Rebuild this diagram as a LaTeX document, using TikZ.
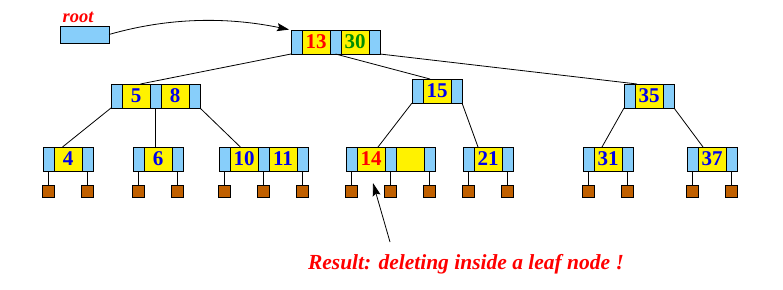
\documentclass[tikz,border=0pt]{standalone}
\usepackage{fontspec}
\setmainfont{Liberation Serif}
\usepackage{tikz}
\usetikzlibrary{positioning,calc,arrows.meta}
\definecolor{ptrblue}{RGB}{135,206,250}
\definecolor{keyblue}{RGB}{0,0,235}
\definecolor{keygreen}{RGB}{0,140,0}
\definecolor{stubbrown}{RGB}{192,96,0}

\begin{document}
\begin{tikzpicture}[x=1pt,y=-1pt,
  ptr/.style={draw,line width=0.9pt,fill=ptrblue,minimum width=11pt,minimum height=24pt,inner sep=0pt,outer sep=0pt},
  key/.style={ptr,fill=yellow,minimum width=28pt,font=\fontsize{21}{21}\selectfont\bfseries,text=keyblue},
  stub/.style={draw,line width=0.9pt,fill=stubbrown,minimum width=12.5pt,minimum height=12pt,inner sep=0pt,outer sep=0pt},
  link/.style={line width=0.8pt}]
\useasboundingbox (0,0) rectangle (783,289);
% root pointer
\node[ptr,minimum width=49pt,minimum height=17pt,anchor=north west] (rootptr) at (60,26) {};
\node[anchor=base,text=red,font=\fontsize{18.5}{18.5}\selectfont\bfseries\itshape] (rootlbl) at (78,22) {root};
% root: 13 30
\node[ptr,anchor=north west] (r0) at (291,30) {};
\node[key,right=0pt of r0,text=red] (rk1) {13};
\node[ptr,right=0pt of rk1] (r1) {};
\node[key,right=0pt of r1,text=keygreen] (rk2) {30};
\node[ptr,right=0pt of rk2] (r2) {};
% level 1: 5 8 / 15 / 35
\node[ptr,anchor=north west] (a0) at (111,84) {};
\node[key,right=0pt of a0] (ak1) {5};
\node[ptr,right=0pt of ak1] (a1) {};
\node[key,right=0pt of a1] (ak2) {8};
\node[ptr,right=0pt of ak2] (a2) {};
\node[ptr,anchor=north west] (b0) at (412,79) {};
\node[key,right=0pt of b0] (bk1) {15};
\node[ptr,right=0pt of bk1] (b1) {};
\node[ptr,anchor=north west] (c0) at (624,84) {};
\node[key,right=0pt of c0] (ck1) {35};
\node[ptr,right=0pt of ck1] (c1) {};
% leaves
\node[ptr,anchor=north west] (d0) at (43,147) {};
\node[key,right=0pt of d0] (dk1) {4};
\node[ptr,right=0pt of dk1] (d1) {};
\node[ptr,anchor=north west] (e0) at (133,147) {};
\node[key,right=0pt of e0] (ek1) {6};
\node[ptr,right=0pt of ek1] (e1) {};
\node[ptr,anchor=north west] (f0) at (219,147) {};
\node[key,right=0pt of f0] (fk1) {10};
\node[ptr,right=0pt of fk1] (f1) {};
\node[key,right=0pt of f1] (fk2) {11};
\node[ptr,right=0pt of fk2] (f2) {};
\node[ptr,anchor=north west] (g0) at (346,147) {};
\node[key,right=0pt of g0,text=red] (gk1) {14};
\node[ptr,right=0pt of gk1] (g1) {};
\node[key,right=0pt of g1] (gk2) {};
\node[ptr,right=0pt of gk2] (g2) {};
\node[ptr,anchor=north west] (h0) at (463,147) {};
\node[key,right=0pt of h0] (hk1) {21};
\node[ptr,right=0pt of hk1] (h1) {};
\node[ptr,anchor=north west] (i0) at (583,147) {};
\node[key,right=0pt of i0] (ik1) {31};
\node[ptr,right=0pt of ik1] (i1) {};
\node[ptr,anchor=north west] (j0) at (687,147) {};
\node[key,right=0pt of j0] (jk1) {37};
\node[ptr,right=0pt of jk1] (j1) {};
% tree links
\draw[link] (r0.south west) -- ($(a0.north west)!0.33!(a2.north east)$);
\draw[link] (r1.south) -- ($(b0.north west)!0.36!(b1.north east)$);
\draw[link] (r2.south east) -- ($(c0.north west)!0.26!(c1.north east)$);
\draw[link] (a0.south west) -- ($(d0.north west)!0.39!(d1.north east)$);
\draw[link] (a1.south) -- ($(e0.north west)!0.45!(e1.north east)$);
\draw[link] (a2.south east) -- ($(f0.north west)!0.24!(f2.north east)$);
\draw[link] (b0.south west) -- ($(g0.north west)!0.36!(g2.north east)$);
\draw[link] (b1.south east) -- ($(h0.north west)!0.30!(h1.north east)$);
\draw[link] (c0.south west) -- ($(i0.north west)!0.38!(i1.north east)$);
\draw[link] (c1.south east) -- ($(j0.north west)!0.32!(j1.north east)$);
% leaf pointers
\node[stub,below=14pt of d0] (ds0) {}; \draw[link] (d0.south) -- (ds0);
\node[stub,below=14pt of d1] (ds1) {}; \draw[link] (d1.south) -- (ds1);
\node[stub,below=14pt of e0] (es0) {}; \draw[link] (e0.south) -- (es0);
\node[stub,below=14pt of e1] (es1) {}; \draw[link] (e1.south) -- (es1);
\node[stub,below=14pt of f0] (fs0) {}; \draw[link] (f0.south) -- (fs0);
\node[stub,below=14pt of f1] (fs1) {}; \draw[link] (f1.south) -- (fs1);
\node[stub,below=14pt of f2] (fs2) {}; \draw[link] (f2.south) -- (fs2);
\node[stub,below=14pt of g0] (gs0) {}; \draw[link] (g0.south) -- (gs0);
\node[stub,below=14pt of g1] (gs1) {}; \draw[link] (g1.south) -- (gs1);
\node[stub,below=14pt of g2] (gs2) {}; \draw[link] (g2.south) -- (gs2);
\node[stub,below=14pt of h0] (hs0) {}; \draw[link] (h0.south) -- (hs0);
\node[stub,below=14pt of h1] (hs1) {}; \draw[link] (h1.south) -- (hs1);
\node[stub,below=14pt of i0] (is0) {}; \draw[link] (i0.south) -- (is0);
\node[stub,below=14pt of i1] (is1) {}; \draw[link] (i1.south) -- (is1);
\node[stub,below=14pt of j0] (js0) {}; \draw[link] (j0.south) -- (js0);
\node[stub,below=14pt of j1] (js1) {}; \draw[link] (j1.south) -- (js1);
% root arrow
\draw[link,-{Stealth[length=12pt,width=8pt,inset=2pt]},shorten >=2pt] (rootptr.east) .. controls (170,17) and (228,17) .. (r0.north west);
% note
\node[anchor=base,text=red,font=\fontsize{21.5}{21.5}\selectfont\bfseries\itshape] (note) at (466,269) {Result: deleting inside a leaf node !};
\coordinate (tail) at (390,242);
\coordinate (tip) at (373,183);
\draw[link,-{Stealth[length=13pt,width=8pt,inset=2pt]}] (tail) -- (tip);
\end{tikzpicture}
\end{document}
